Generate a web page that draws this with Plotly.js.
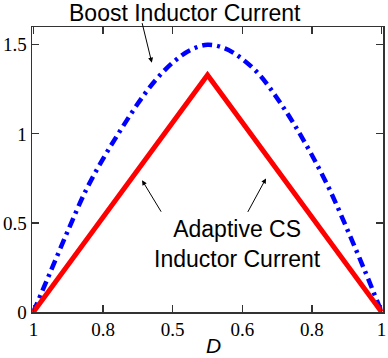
<!DOCTYPE html>
<html>
<head>
<meta charset="utf-8">
<script src="https://cdn.plot.ly/plotly-3.0.1.min.js"></script>
<style>
  html, body { margin: 0; padding: 0; background: #fff; }
  #chart { width: 388px; height: 358px; }
</style>
</head>
<body>
<div id="chart"></div>
<script>
// Tick positions along the D axis and their printed labels
const tickPos = [0, 1, 2, 3, 4, 5];
const tickText = ['1', '0.8', '0.5', '0.6', '0.8', '1'];

// Boost inductor current (dash-dot curve)
const boostX = [0, 0.25, 0.5, 0.75, 1, 1.25, 1.5, 1.75, 2, 2.25, 2.5,
                2.75, 3, 3.25, 3.5, 3.75, 4, 4.25, 4.5, 4.75, 5];
const boostY = [0, 0.23, 0.46, 0.68, 0.86, 1.02, 1.17, 1.30, 1.40, 1.47, 1.50,
                1.48, 1.42, 1.33, 1.20, 1.05, 0.88, 0.69, 0.47, 0.24, 0];

// Adaptive CS inductor current (triangle)
const csX = [0, 2.5, 5];
const csY = [0, 1.33, 0];

const yTicks = [0, 0.5, 1, 1.5];
const yTickText = ['0', '0.5', '1', '1.5'];

const traces = [
  {
    x: boostX, y: boostY, type: 'scatter', mode: 'lines',
    line: { color: '#0000ff', width: 4.5, dash: '10px,5px,3px,5px', shape: 'spline' },
    hoverinfo: 'skip'
  },
  {
    x: csX, y: csY, type: 'scatter', mode: 'lines',
    line: { color: '#ff0000', width: 5 },
    hoverinfo: 'skip'
  }
];

const serif = { family: 'Liberation Serif, Times New Roman, serif', size: 19, color: '#000' };
const sans = { family: 'Liberation Sans, Arial, sans-serif', size: 23, color: '#000' };

const layout = {
  width: 388, height: 358,
  margin: { l: 32, r: 5, t: 27, b: 46 },
  paper_bgcolor: '#fff', plot_bgcolor: '#fff',
  showlegend: false,
  xaxis: {
    range: [-0.02, 5.02],
    tickvals: tickPos, ticktext: tickText,
    ticks: 'inside', ticklen: 7, tickwidth: 1.2, tickcolor: '#333',
    showline: true, linecolor: '#333', linewidth: 1.5, mirror: 'ticks',
    showgrid: false, zeroline: false,
    tickfont: serif
  },
  yaxis: {
    range: [0, 1.6],
    tickvals: yTicks, ticktext: yTickText,
    ticks: 'inside', ticklen: 7, tickwidth: 1.2, tickcolor: '#333',
    showline: true, linecolor: '#333', linewidth: 1.5, mirror: 'ticks',
    showgrid: false, zeroline: false,
    tickfont: serif, ticklabelstandoff: 0
  },
  annotations: [
    { text: 'Boost Inductor Current', xref: 'paper', yref: 'paper',
      x: 0.437, y: 1.0, yshift: 14, xanchor: 'center', yanchor: 'middle',
      showarrow: false, font: sans },
    { text: '', x: 1.70, y: 1.40, xref: 'x', yref: 'y',
      showarrow: true, ax: -10, ay: -41, arrowhead: 2, arrowsize: 1, arrowwidth: 1, arrowcolor: '#000' },
    { text: 'Adaptive CS<br>Inductor Current', xref: 'x', yref: 'y',
      x: 2.93, y: 0.38, xanchor: 'center', yanchor: 'middle',
      showarrow: false, font: sans },
    { text: '', x: 1.56, y: 0.74, xref: 'x', yref: 'y',
      showarrow: true, ax: 20, ay: 33, arrowhead: 2, arrowsize: 1, arrowwidth: 1, arrowcolor: '#000' },
    { text: '', x: 3.34, y: 0.75, xref: 'x', yref: 'y',
      showarrow: true, ax: -19, ay: 35, arrowhead: 2, arrowsize: 1, arrowwidth: 1, arrowcolor: '#000' },
    { text: '<i>D</i>', xref: 'paper', yref: 'paper',
      x: 0.517, y: 0, yshift: -33, xanchor: 'center', yanchor: 'middle',
      showarrow: false, font: { family: 'Liberation Sans, Arial, sans-serif', size: 21, color: '#000' } }
  ]
};

Plotly.newPlot('chart', traces, layout, { staticPlot: true, displayModeBar: false });
</script>
</body>
</html>
